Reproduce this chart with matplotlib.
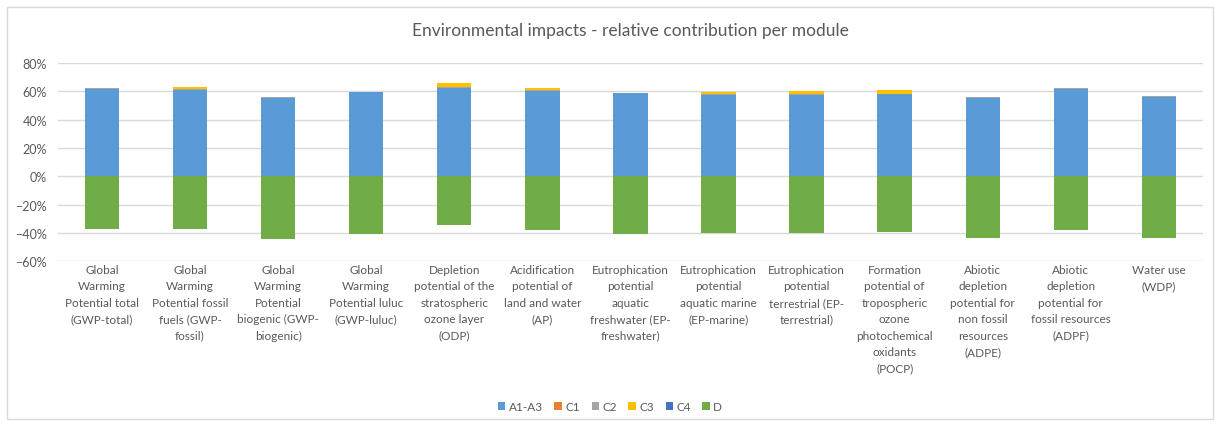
import numpy as np
import matplotlib.pyplot as plt
from matplotlib.patches import Rectangle
from matplotlib.ticker import PercentFormatter

plt.rcParams['font.family'] = ['Lato', 'DejaVu Sans']

categories = [
    "Global\nWarming\nPotential total\n(GWP-total)",
    "Global\nWarming\nPotential fossil\nfuels (GWP-\nfossil)",
    "Global\nWarming\nPotential\nbiogenic (GWP-\nbiogenic)",
    "Global\nWarming\nPotential luluc\n(GWP-luluc)",
    "Depletion\npotential of the\nstratospheric\nozone layer\n(ODP)",
    "Acidification\npotential of\nland and water\n(AP)",
    "Eutrophication\npotential\naquatic\nfreshwater (EP-\nfreshwater)",
    "Eutrophication\npotential\naquatic marine\n(EP-marine)",
    "Eutrophication\npotential\nterrestrial (EP-\nterrestrial)",
    "Formation\npotential of\ntropospheric\nozone\nphotochemical\noxidants\n(POCP)",
    "Abiotic\ndepletion\npotential for\nnon fossil\nresources\n(ADPE)",
    "Abiotic\ndepletion\npotential for\nfossil resources\n(ADPF)",
    "Water use\n(WDP)",
]

# percent values
a1_a3 = [61.5, 61.0, 55.6, 59.2, 62.4, 60.3, 58.7, 57.7, 57.7, 58.2, 55.6, 61.5, 56.3]
c1    = [0.05, 0.05, 0.0, 0.0, 0.05, 0.05, 0.0, 0.05, 0.05, 0.05, 0.0, 0.05, 0.0]
c2    = [0.9, 0.7, 0.1, 0.1, 0.3, 0.3, 0.1, 0.2, 0.2, 0.2, 0.1, 0.9, 0.1]
c3    = [0.1, 1.4, 0.0, 0.0, 2.8, 1.6, 0.1, 1.9, 2.1, 2.4, 0.1, 0.1, 0.0]
c4    = [0.0, 0.0, 0.0, 0.0, 0.0, 0.0, 0.0, 0.0, 0.0, 0.0, 0.0, 0.0, 0.0]
d     = [-37.5, -37.0, -44.0, -40.8, -34.4, -38.2, -41.0, -39.8, -40.0, -39.3, -43.8, -37.7, -43.3]

series = [("A1-A3", a1_a3, '#5B9BD5'),
          ("C1", c1, '#ED7D31'),
          ("C2", c2, '#A5A5A5'),
          ("C3", c3, '#FFC000'),
          ("C4", c4, '#4472C4'),
          ("D", d, '#70AD47')]

fig = plt.figure(figsize=(12.2, 4.27), dpi=100)
fig.patches.append(Rectangle((0.006, 0.017), 0.988, 0.965, transform=fig.transFigure,
                             fill=False, edgecolor='#D9D9D9', linewidth=1.0))
ax = fig.add_axes([0.0475, 0.386, 0.9385, 0.464])

x = np.arange(len(categories))
width = 0.39
pos_base = np.zeros(len(x))
neg_base = np.zeros(len(x))
for name, vals, col in series:
    v = np.array(vals, dtype=float)
    bottom = np.where(v >= 0, pos_base, neg_base)
    ax.bar(x, v, width, bottom=bottom, color=col, label=name, zorder=3,
           linewidth=0)
    pos_base += np.where(v >= 0, v, 0)
    neg_base += np.where(v < 0, v, 0)

ax.set_xlim(-0.5, len(x) - 0.5)
ax.set_ylim(-60, 80)
ax.set_yticks(np.arange(-60, 81, 20))
ax.yaxis.set_major_formatter(PercentFormatter(decimals=0))
ax.grid(axis='y', color='#D9D9D9', linewidth=1.0, zorder=0)
for s in ax.spines.values():
    s.set_visible(False)
ax.tick_params(axis='y', length=0, labelsize=9, labelcolor='#595959', pad=8)
ax.tick_params(axis='x', length=0)
ax.set_xticks(x)
ax.set_xticklabels([])

for xi, lab in zip(x, categories):
    ax.text(xi, -62.0, lab, ha='center', va='top', fontsize=8.5, color='#595959',
            linespacing=1.6, transform=ax.transData)

ax.set_title("Environmental impacts - relative contribution per module",
             fontsize=12.5, color='#595959', pad=20)

fig.legend(loc='center', bbox_to_anchor=(0.5, 0.045), ncol=6, frameon=False,
           fontsize=8.5, labelcolor='#595959', handlelength=0.6, handleheight=0.6,
           handletextpad=0.3, columnspacing=1.0)

fig.savefig('out.png', dpi=100)
